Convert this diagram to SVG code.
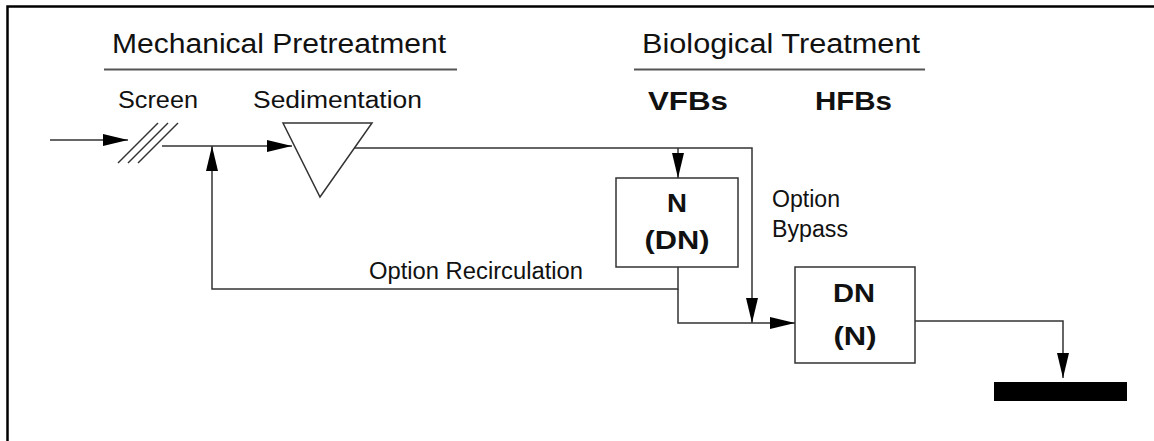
<svg xmlns="http://www.w3.org/2000/svg" width="1154" height="441" viewBox="0 0 1154 441">
<defs>
<style>
.t{font-family:"Liberation Sans",Arial,sans-serif;fill:#111}
.h{font-size:27px}
.l{font-size:23px}
.b{font-size:25px;font-weight:bold}
.box{fill:#fff;stroke:#333;stroke-width:1.5}
.c{fill:none;stroke:#333;stroke-width:1.5}
.ul{stroke:#555;stroke-width:2}
</style>
<marker id="ah" viewBox="0 0 25 12" refX="25" refY="6" markerWidth="25" markerHeight="12" markerUnits="userSpaceOnUse" orient="auto">
<path d="M0,0 L25,6 L0,12 Z" fill="#000"/>
</marker>
</defs>
<rect width="1154" height="441" fill="#fff"/>
<path d="M7.5,441 V6.5 H1154" fill="none" stroke="#000" stroke-width="2.5"/>

<g id="headings">
<text class="t h" x="112" y="53" textLength="334" lengthAdjust="spacingAndGlyphs">Mechanical Pretreatment</text>
<line class="ul" x1="104" y1="69.5" x2="457" y2="69.5"/>
<text class="t h" x="642" y="53" textLength="278" lengthAdjust="spacingAndGlyphs">Biological Treatment</text>
<line class="ul" x1="634" y1="69.5" x2="925" y2="69.5"/>
<text class="t b" x="648" y="110" textLength="80" lengthAdjust="spacingAndGlyphs">VFBs</text>
<text class="t b" x="815" y="110" textLength="77" lengthAdjust="spacingAndGlyphs">HFBs</text>
</g>

<g id="screen">
<text class="t l" x="118" y="108" textLength="80" lengthAdjust="spacingAndGlyphs">Screen</text>
<line class="c" x1="118" y1="163" x2="158" y2="123"/>
<line class="c" x1="128" y1="163" x2="168" y2="123"/>
<line class="c" x1="138" y1="163" x2="178" y2="123"/>
</g>

<g id="sedimentation">
<text class="t l" x="253" y="108" textLength="169" lengthAdjust="spacingAndGlyphs">Sedimentation</text>
<polygon class="box" points="283,123 372,123 320,197"/>
</g>

<g id="vfb">
<rect class="box" x="616" y="178" width="122" height="89"/>
<text class="t b" x="677" y="212" text-anchor="middle" textLength="20" lengthAdjust="spacingAndGlyphs">N</text>
<text class="t b" x="677" y="249" text-anchor="middle" textLength="65" lengthAdjust="spacingAndGlyphs">(DN)</text>
</g>

<g id="hfb">
<rect class="box" x="795" y="267" width="120" height="96"/>
<text class="t b" x="854" y="302" text-anchor="middle" textLength="42" lengthAdjust="spacingAndGlyphs">DN</text>
<text class="t b" x="855" y="345" text-anchor="middle" textLength="43" lengthAdjust="spacingAndGlyphs">(N)</text>
</g>

<g id="outlet">
<rect x="994" y="382" width="133" height="19" fill="#000"/>
</g>

<g id="connectors">
<line class="c" x1="50" y1="140" x2="128" y2="140" marker-end="url(#ah)"/>
<line class="c" x1="162" y1="146" x2="292" y2="146" marker-end="url(#ah)"/>
<polyline class="c" points="678,267 678,289 212,289 212,146" marker-end="url(#ah)"/>
<polyline class="c" points="354,148 752,148 752,323" marker-end="url(#ah)"/>
<line class="c" x1="678" y1="148" x2="678" y2="178" marker-end="url(#ah)"/>
<polyline class="c" points="678,289 678,323 795,323" marker-end="url(#ah)"/>
<polyline class="c" points="915,321 1063,321 1063,378" marker-end="url(#ah)"/>
</g>

<g id="labels">
<text class="t l" x="772" y="207" textLength="68" lengthAdjust="spacingAndGlyphs">Option</text>
<text class="t l" x="772" y="237" textLength="76" lengthAdjust="spacingAndGlyphs">Bypass</text>
<text class="t l" x="369" y="279" textLength="214" lengthAdjust="spacingAndGlyphs">Option Recirculation</text>
</g>
</svg>
